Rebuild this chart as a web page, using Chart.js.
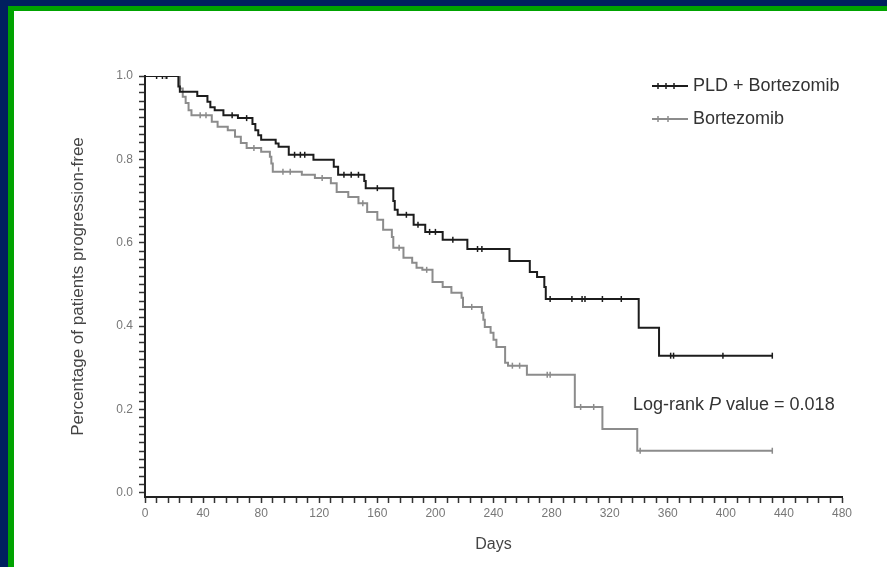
<!DOCTYPE html>
<html>
<head>
<meta charset="utf-8">
<script src="https://cdn.jsdelivr.net/npm/chart.js@4.4.1/dist/chart.umd.min.js"></script>
<style>
  html, body { margin: 0; padding: 0; background: #fff; overflow: hidden; }
  #frame { position: absolute; left: 0; top: 0; width: 887px; height: 567px; box-sizing: border-box;
           border-top: 6px solid #00205f; border-left: 8px solid #00205f; }
  #frame div { width: 100%; height: 100%; box-sizing: border-box;
               border-top: 5px solid #00a300; border-left: 6px solid #00a300; }
  #pfsChart { position: absolute; left: 0; top: 0; }
</style>
</head>
<body>
<div id="frame"><div></div></div>
<canvas id="pfsChart" width="887" height="567"></canvas>
<script>
const FONT = "'Liberation Sans', Arial, sans-serif";

// Kaplan-Meier curves (days, proportion progression-free)
const seriesLabels = ['PLD + Bortezomib', 'Bortezomib'];

const pldEventDays = [0, 23, 24, 36, 43, 45, 48, 54, 64, 74, 76, 78, 80, 90, 92, 99, 116, 130, 133, 151,
                      152, 171, 172, 174, 185, 193, 205, 222, 251, 265, 270, 275, 276, 340, 354];
const pldSurvival = [1.0, 0.975, 0.962, 0.952, 0.938, 0.925, 0.918, 0.906, 0.899, 0.885, 0.870, 0.858, 0.847, 0.838, 0.830, 0.811, 0.799, 0.782, 0.763, 0.748,
                     0.731, 0.700, 0.679, 0.667, 0.643, 0.626, 0.607, 0.585, 0.556, 0.530, 0.518, 0.494, 0.465, 0.396, 0.329];
const pldCensorDays = [8, 12, 15, 60, 70, 103, 107, 110, 137, 142, 147, 160, 180, 188, 196, 200, 212, 229, 232,
                       279, 294, 301, 303, 315, 328, 362, 364, 398, 432];

const bortEventDays = [0, 24, 26, 28, 30, 32, 46, 50, 57, 62, 66, 70, 80, 86, 87, 88, 108, 117, 128, 132,
                       140, 147, 153, 160, 164, 170, 171, 178, 184, 187, 191, 198, 205, 211, 218, 219, 232, 233, 234, 238,
                       240, 242, 248, 250, 263, 296, 315, 339];
const bortSurvival = [1.0, 0.97, 0.95, 0.935, 0.918, 0.906, 0.89, 0.878, 0.870, 0.854, 0.839, 0.827, 0.818, 0.806, 0.79, 0.770, 0.763, 0.755, 0.743, 0.722,
                      0.710, 0.695, 0.674, 0.655, 0.631, 0.614, 0.588, 0.564, 0.552, 0.540, 0.535, 0.506, 0.494, 0.480, 0.468, 0.446, 0.432, 0.415, 0.398, 0.384,
                      0.367, 0.350, 0.312, 0.305, 0.283, 0.206, 0.153, 0.101];
const bortCensorDays = [14, 38, 42, 75, 95, 100, 122, 150, 175, 194, 225, 253, 258, 277, 279, 300, 309, 341, 432];

const xMajorTicks = [0, 40, 80, 120, 160, 200, 240, 280, 320, 360, 400, 440, 480];
const yMajorTicks = [0.0, 0.2, 0.4, 0.6, 0.8, 1.0];
const pValueText = '0.018';

function kmPoints(days, surv, censorDays) {
    const pts = days.map(function (d, i) { return { x: d, y: surv[i], censored: false }; });
    censorDays.forEach(function (d) {
        let s = surv[0];
        days.forEach(function (e, i) { if (e <= d) s = surv[i]; });
        pts.push({ x: d, y: s, censored: true });
    });
    pts.sort(function (a, b) { return a.x - b.x || (a.censored - b.censored); });
    return pts;
}

function isMajor(value, list) {
    return list.some(function (m) { return Math.abs(m - value) < 1e-6; });
}

const censorRadius = function (ctx) { return ctx.raw && ctx.raw.censored ? 3 : 0; };

// legend and log-rank note drawn on top of the plot
const notes = {
    id: 'notes',
    afterDraw(chart) {
        const ctx = chart.ctx;
        ctx.save();
        ctx.textBaseline = 'middle';
        ctx.textAlign = 'left';
        ctx.font = '18px ' + FONT;

        const rows = [
            { color: '#1c1c1c', y: 86, marks: [658, 666, 674] },
            { color: '#8c8c8c', y: 119, marks: [658, 668] }
        ];
        rows.forEach(function (row, i) {
            ctx.strokeStyle = row.color;
            ctx.lineWidth = 2;
            ctx.beginPath();
            ctx.moveTo(652, row.y);
            ctx.lineTo(688, row.y);
            ctx.stroke();
            ctx.lineWidth = 1.5;
            row.marks.forEach(function (mx) {
                ctx.beginPath();
                ctx.moveTo(mx, row.y - 3);
                ctx.lineTo(mx, row.y + 3);
                ctx.stroke();
            });
            ctx.fillStyle = '#333';
            ctx.fillText(seriesLabels[i], 693, row.y);
        });

        let x = 633;
        const y = 405;
        const parts = [['Log-rank ', ''], ['P', 'italic '], [' value = ' + pValueText, '']];
        parts.forEach(function (p) {
            ctx.font = p[1] + '18px ' + FONT;
            ctx.fillText(p[0], x, y);
            x += ctx.measureText(p[0]).width;
        });
        ctx.restore();
    }
};

new Chart(document.getElementById('pfsChart').getContext('2d'), {
    type: 'line',
    data: {
        datasets: [{
            label: seriesLabels[0],
            data: kmPoints(pldEventDays, pldSurvival, pldCensorDays),
            stepped: 'before',
            borderColor: '#1c1c1c',
            borderWidth: 2,
            fill: false,
            pointStyle: 'line',
            pointRotation: 90,
            pointRadius: censorRadius,
            pointBorderWidth: 1.5,
            pointBorderColor: '#1c1c1c'
        }, {
            label: seriesLabels[1],
            data: kmPoints(bortEventDays, bortSurvival, bortCensorDays),
            stepped: 'before',
            borderColor: '#8c8c8c',
            borderWidth: 2,
            fill: false,
            pointStyle: 'line',
            pointRotation: 90,
            pointRadius: censorRadius,
            pointBorderWidth: 1.5,
            pointBorderColor: '#8c8c8c'
        }]
    },
    options: {
        responsive: false,
        animation: false,
        events: [],
        layout: { padding: { left: 0, top: 76, right: 45, bottom: 0 } },
        plugins: {
            legend: { display: false },
            tooltip: { enabled: false }
        },
        scales: {
            x: {
                type: 'linear',
                min: 0,
                max: 480,
                afterFit: function (scale) { scale.height = 70; },
                border: { display: true, color: '#222', width: 2 },
                grid: { drawOnChartArea: false, drawTicks: true, tickLength: 6, color: '#333', tickWidth: 1.5 },
                ticks: {
                    stepSize: 8,
                    autoSkip: false,
                    maxRotation: 0,
                    minRotation: 0,
                    padding: 3,
                    color: '#777',
                    font: { family: FONT, size: 12 },
                    callback: function (v) { return isMajor(v, xMajorTicks) ? String(v) : ''; }
                },
                title: {
                    display: true,
                    text: 'Days',
                    color: '#444',
                    font: { family: FONT, size: 16 },
                    padding: { top: 0, bottom: 13 }
                }
            },
            y: {
                min: -0.01,
                max: 1.0,
                afterFit: function (scale) { scale.width = 145; },
                border: { display: true, color: '#222', width: 2 },
                grid: { drawOnChartArea: false, drawTicks: true, tickLength: 6, color: '#333', tickWidth: 1.5 },
                ticks: {
                    stepSize: 0.02,
                    includeBounds: false,
                    autoSkip: false,
                    padding: 6,
                    color: '#777',
                    font: { family: FONT, size: 12 },
                    callback: function (v) { return isMajor(v, yMajorTicks) ? v.toFixed(1) : ''; }
                },
                title: {
                    display: true,
                    text: 'Percentage of patients progression-free',
                    color: '#444',
                    font: { family: FONT, size: 17 },
                    padding: { top: 68, bottom: 0 }
                }
            }
        }
    },
    plugins: [notes]
});
</script>
</body>
</html>
